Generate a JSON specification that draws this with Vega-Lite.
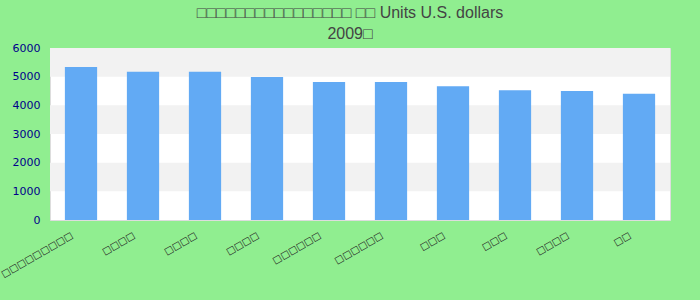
{
  "$schema": "https://vega.github.io/schema/vega-lite/v6.json",
  "width": 620,
  "height": 172,
  "autosize": {"type": "none"},
  "padding": {"left": 50, "top": 48, "right": 30, "bottom": 80},
  "background": "#90EE90",
  "title": {
    "text": ["□□□□□□□□□□□□□□□□ □□ Units U.S. dollars", "2009□"],
    "font": "Liberation Sans",
    "fontSize": 16,
    "fontWeight": "normal",
    "color": "#444444",
    "anchor": "middle",
    "dx": -10,
    "offset": 0,
    "lineHeight": 21
  },
  "config": {
    "view": {"stroke": "#dddddd", "fill": "#ffffff"},
    "axis": {"grid": false, "ticks": false, "domain": false, "title": null}
  },
  "datasets": {
    "bars": [
      {"name": "□□□□□□□□□", "value": 5340},
      {"name": "□□□□", "value": 5170},
      {"name": "□□□□ ", "value": 5170},
      {"name": "□□□□  ", "value": 4990},
      {"name": "□□□□□□", "value": 4810},
      {"name": "□□□□□□ ", "value": 4810},
      {"name": "□□□", "value": 4670},
      {"name": "□□□ ", "value": 4530},
      {"name": "□□□□   ", "value": 4500},
      {"name": "□□", "value": 4400}
    ],
    "bands": [
      {"lo": 1000, "hi": 2000},
      {"lo": 3000, "hi": 4000},
      {"lo": 5000, "hi": 6000}
    ]
  },
  "layer": [
    {
      "data": {"name": "bands"},
      "mark": {"type": "rect", "color": "#f2f2f2"},
      "encoding": {
        "y": {
          "field": "lo", "type": "quantitative", "scale": {"domain": [0, 6000]},
          "axis": {"values": [0, 1000, 2000, 3000, 4000, 5000, 6000], "format": "d", "labelOverlap": false, "labelFont": "DejaVu Sans", "labelFontSize": 11, "labelColor": "#00008B", "labelPadding": 10}
        },
        "y2": {"field": "hi"}
      }
    },
    {
      "data": {"name": "bars"},
      "mark": {"type": "bar", "color": "#62aaf4"},
      "encoding": {
        "x": {
          "field": "name", "type": "nominal", "sort": null,
          "scale": {"paddingInner": 0.48},
          "axis": {"labelAngle": -30, "labelAlign": "right", "labelBaseline": "middle", "labelPadding": 14, "labelOffset": -9, "labelFont": "DejaVu Sans", "labelFontSize": 9.5, "labelColor": "#222222", "labelOverlap": false}
        },
        "y": {
          "field": "value", "type": "quantitative",
          "scale": {"domain": [0, 6000]},
          "axis": {"values": [0, 1000, 2000, 3000, 4000, 5000, 6000], "format": "d", "labelOverlap": false, "labelFont": "DejaVu Sans", "labelFontSize": 11, "labelColor": "#00008B", "labelPadding": 10}
        }
      }
    }
  ]
}
